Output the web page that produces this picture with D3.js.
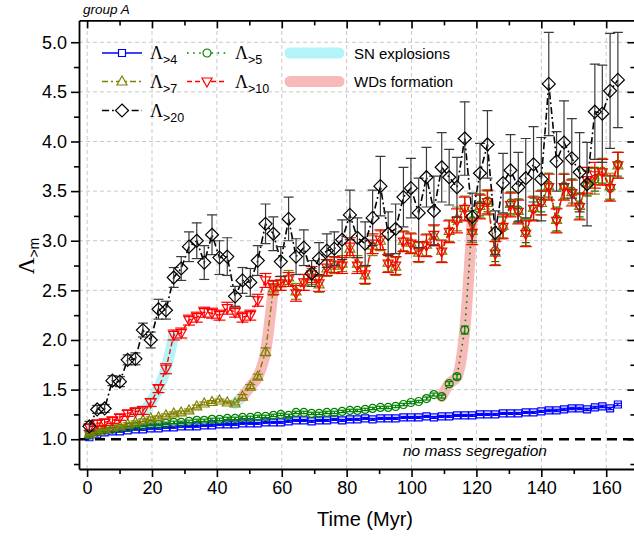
<!DOCTYPE html>
<html><head><meta charset="utf-8">
<script src="https://cdn.jsdelivr.net/npm/d3@7"></script>
<style>body{margin:0;background:#fff;} svg{display:block;font-family:"Liberation Sans",Arial,sans-serif;}</style>
</head><body><svg id="c" width="634" height="536"></svg>
<script>
// ---- data ----
const time = [0.7,3.1,5.4,7.8,10.1,12.5,14.9,17.2,19.6,22.0,
24.3,26.7,29.0,31.4,33.8,36.1,38.5,40.8,43.2,45.6,
47.9,50.3,52.6,55.0,57.4,59.7,62.1,64.4,66.8,69.2,
71.5,73.9,76.2,78.6,81.0,83.3,85.7,88.0,90.4,92.8,
95.1,97.5,99.8,102.2,104.6,106.9,109.3,111.6,114.0,116.4,
118.7,121.1,123.4,125.8,128.2,130.5,132.9,135.2,137.6,140.0,
142.3,144.7,147.0,149.4,151.8,154.1,156.5,158.8,161.2,163.6];

const lam4 = [1.02,1.05,1.07,1.08,1.08,1.09,1.10,1.10,1.11,1.11,
1.12,1.12,1.13,1.13,1.13,1.14,1.14,1.15,1.15,1.15,
1.16,1.16,1.16,1.17,1.17,1.17,1.18,1.19,1.19,1.18,
1.19,1.19,1.20,1.19,1.20,1.20,1.21,1.20,1.21,1.21,
1.21,1.22,1.22,1.22,1.23,1.22,1.23,1.23,1.24,1.24,
1.24,1.25,1.25,1.25,1.26,1.26,1.26,1.27,1.27,1.28,
1.29,1.29,1.30,1.31,1.31,1.30,1.32,1.33,1.31,1.35];
const err4 = [0.01,0.01,0.01,0.01,0.01,0.01,0.01,0.01,0.01,0.01,
0.01,0.01,0.01,0.01,0.01,0.01,0.01,0.01,0.01,0.01,
0.01,0.01,0.01,0.01,0.01,0.01,0.01,0.01,0.01,0.01,
0.01,0.01,0.01,0.01,0.01,0.01,0.01,0.01,0.01,0.01,
0.01,0.01,0.01,0.01,0.01,0.01,0.01,0.01,0.01,0.01,
0.01,0.01,0.01,0.01,0.01,0.01,0.01,0.01,0.01,0.01,
0.012,0.012,0.012,0.012,0.012,0.012,0.012,0.012,0.012,0.012];

const lam5 = [1.04,1.07,1.09,1.10,1.11,1.12,1.13,1.14,1.15,1.15,
1.16,1.17,1.17,1.18,1.19,1.19,1.20,1.20,1.21,1.21,
1.22,1.22,1.23,1.23,1.24,1.25,1.24,1.27,1.27,1.26,
1.26,1.27,1.27,1.28,1.29,1.29,1.30,1.31,1.32,1.32,
1.33,1.35,1.37,1.38,1.41,1.45,1.43,1.56,1.63,2.10,
3.20,3.36,3.40,2.90,3.13,3.38,3.31,3.10,3.32,3.40,
3.56,3.22,3.55,3.50,3.36,3.58,3.62,3.70,3.53,3.77];
const err5 = [0.012,0.012,0.012,0.012,0.012,0.012,0.012,0.012,0.012,0.012,
0.012,0.012,0.012,0.012,0.012,0.012,0.012,0.012,0.012,0.012,
0.012,0.012,0.012,0.012,0.012,0.012,0.012,0.012,0.012,0.012,
0.012,0.012,0.012,0.012,0.012,0.012,0.012,0.012,0.012,0.012,
0.012,0.012,0.012,0.012,0.015,0.015,0.015,0.02,0.025,0.04,
0.10,0.11,0.11,0.11,0.11,0.11,0.11,0.12,0.11,0.11,
0.12,0.12,0.12,0.12,0.12,0.12,0.12,0.12,0.12,0.12];

const lam7 = [1.05,1.08,1.10,1.12,1.13,1.15,1.17,1.19,1.21,1.22,
1.24,1.26,1.27,1.29,1.33,1.36,1.375,1.39,1.37,1.36,
1.43,1.53,1.63,1.88,2.52,2.57,2.63,2.49,2.58,2.64,
2.56,2.72,2.75,2.77,2.92,2.77,2.65,2.95,3.00,2.78,
2.74,3.00,2.98,2.88,2.96,3.05,2.90,3.10,3.22,3.33,
3.10,3.35,3.38,2.88,3.15,3.37,3.30,3.08,3.33,3.38,
3.55,3.21,3.55,3.49,3.35,3.58,3.60,3.70,3.55,3.76];
const err7 = [0.015,0.015,0.015,0.015,0.015,0.015,0.015,0.015,0.015,0.015,
0.015,0.015,0.015,0.015,0.015,0.015,0.015,0.015,0.015,0.015,
0.02,0.02,0.025,0.04,0.07,0.07,0.07,0.08,0.08,0.08,
0.08,0.08,0.08,0.08,0.09,0.08,0.09,0.10,0.10,0.09,
0.09,0.10,0.10,0.10,0.11,0.10,0.11,0.11,0.12,0.12,
0.12,0.12,0.12,0.12,0.12,0.12,0.12,0.13,0.12,0.12,
0.13,0.12,0.13,0.13,0.13,0.13,0.13,0.13,0.13,0.13];

const lam10 = [1.12,1.16,1.17,1.19,1.22,1.26,1.28,1.29,1.37,1.51,
1.71,2.05,2.07,2.20,2.23,2.28,2.27,2.25,2.32,2.28,
2.23,2.25,2.40,2.60,2.53,2.57,2.61,2.47,2.58,2.66,
2.57,2.73,2.76,2.75,2.94,2.75,2.66,2.97,3.01,2.77,
2.75,2.99,2.97,2.89,2.95,3.06,2.89,3.09,3.20,3.32,
3.08,3.34,3.39,2.87,3.14,3.36,3.29,3.07,3.32,3.38,
3.54,3.20,3.54,3.48,3.34,3.61,3.66,3.69,3.53,3.76];
const err10 = [0.03,0.03,0.03,0.03,0.03,0.03,0.03,0.04,0.04,0.04,
0.05,0.05,0.05,0.05,0.05,0.05,0.05,0.05,0.06,0.05,
0.05,0.05,0.06,0.07,0.07,0.07,0.07,0.08,0.08,0.08,
0.08,0.08,0.08,0.08,0.09,0.08,0.09,0.10,0.10,0.09,
0.09,0.10,0.10,0.10,0.11,0.10,0.11,0.11,0.12,0.12,
0.12,0.12,0.12,0.12,0.12,0.12,0.12,0.13,0.12,0.12,
0.13,0.12,0.13,0.13,0.13,0.13,0.13,0.13,0.13,0.13];

const lam20 = [1.13,1.30,1.31,1.59,1.58,1.80,1.81,2.10,2.00,2.31,
2.30,2.63,2.72,2.94,3.00,2.78,3.06,2.83,2.84,2.44,
2.60,2.58,2.80,3.17,3.07,2.79,3.22,2.84,2.93,2.67,
2.82,2.90,2.92,3.01,3.26,3.03,2.97,3.23,3.55,3.07,
3.12,3.44,3.53,3.28,3.64,3.30,3.74,3.64,3.54,4.03,
3.24,3.68,3.97,3.08,3.58,3.71,3.54,3.63,3.77,3.62,
4.58,3.80,3.99,3.83,3.69,3.57,4.30,4.28,4.51,4.62];
const err20 = [0.05,0.04,0.04,0.05,0.05,0.05,0.06,0.07,0.08,0.10,
0.09,0.10,0.12,0.15,0.18,0.17,0.20,0.17,0.19,0.10,
0.13,0.14,0.15,0.20,0.17,0.15,0.22,0.18,0.18,0.13,
0.16,0.17,0.17,0.20,0.25,0.20,0.22,0.28,0.30,0.22,
0.25,0.30,0.30,0.35,0.30,0.35,0.35,0.28,0.30,0.37,
0.24,0.30,0.34,0.22,0.30,0.36,0.35,0.40,0.38,0.42,
0.52,0.30,0.42,0.40,0.40,0.42,0.48,0.49,0.58,0.48];

// highlighted phases: [series, first index, last index]
const snBands = [["lam10", 6, 11], ["lam7", 19, 20]];
const wdBands = [["lam7", 20, 24], ["lam5", 46, 50]];

const xTicks = [0,20,40,60,80,100,120,140,160];
const xMinor = [10,30,50,70,90,110,130,150];
const yTicks = [1.0,1.5,2.0,2.5,3.0,3.5,4.0,4.5,5.0];
const yMinor = [0.75,1.25,1.75,2.25,2.75,3.25,3.75,4.25,4.75];

// ---- drawing ----
const vals = {lam4, lam5, lam7, lam10, lam20};
const errs = {lam4: err4, lam5: err5, lam7: err7, lam10: err10, lam20: err20};
const series = [
  {k:"lam4", sub:">4", color:"#0000ff", dash:null, marker:"square", cap:6, ecol:"#0000ff", w:1.3},
  {k:"lam5", sub:">5", color:"#008000", dash:"1.6,4.5", marker:"circle", cap:8, ecol:"#008000", w:1.6},
  {k:"lam7", sub:">7", color:"#808000", dash:"6,3,2,3", marker:"up", cap:10, ecol:"#808000", w:1.4},
  {k:"lam10", sub:">10", color:"#ff0000", dash:"5,3", marker:"down", cap:12, ecol:"#ff0000", w:1.4},
  {k:"lam20", sub:">20", color:"#000000", dash:"7,3,1.8,3", marker:"diamond", cap:10, ecol:"#3a3a3a", w:1.6}
];
const shapes = {
  square: "M-3.5,-3.5h7v7h-7z",
  circle: "M4,0A4,4 0 1,1 -4,0A4,4 0 1,1 4,0Z",
  up: "M0,-5.5L5,3.5L-5,3.5Z",
  down: "M0,5.5L5,-3.5L-5,-3.5Z",
  diamond: "M0,-6.5L6.5,0L0,6.5L-6.5,0Z"
};

const svg = d3.select("#c");
const x = d3.scaleLinear().domain([-2.5, 169]).range([79, 635.4]);
const y = d3.scaleLinear().domain([0.7, 5.22]).range([469, 20.4]);

svg.append("defs").append("clipPath").attr("id","clip")
  .append("rect").attr("x",79).attr("y",20.4).attr("width",556.4).attr("height",448.6);

// grid
const grid = svg.append("g").attr("stroke","#c8c8c8").attr("stroke-width",1).attr("stroke-dasharray","4,3");
grid.selectAll("line.gx").data(xTicks).join("line")
  .attr("x1",d=>x(d)).attr("x2",d=>x(d)).attr("y1",y.range()[0]).attr("y2",y.range()[1]);
grid.selectAll("line.gy").data(yTicks.slice(1)).join("line")
  .attr("x1",x.range()[0]).attr("x2",x.range()[1]).attr("y1",d=>y(d)).attr("y2",d=>y(d));

// reference line
svg.append("line").attr("x1",79).attr("x2",635).attr("y1",y(1)).attr("y2",y(1))
  .attr("stroke","#000").attr("stroke-width",2.6).attr("stroke-dasharray","10,6");
svg.append("text").attr("x",403).attr("y",456).attr("font-size",15.5).attr("font-style","italic")
  .text("no mass segregation");

const plot = svg.append("g").attr("clip-path","url(#clip)");

// bands
function band(list, color){
  list.forEach(([k,a,b])=>{
    const pts = d3.range(a,b+1).map(i=>[x(time[i]), y(vals[k][i])]);
    plot.append("path").attr("d", d3.line().curve(d3.curveMonotoneX)(pts))
      .attr("fill","none").attr("stroke",color).attr("stroke-width",11)
      .attr("stroke-linecap","round").attr("stroke-linejoin","round");
  });
}
band(snBands, "#b2f4f7");
band(wdBands, "#f8b9b9");

// series
series.forEach(s=>{
  const v = vals[s.k], e = errs[s.k];
  const g = plot.append("g");
  const data = time.map((t,i)=>({t, v:v[i], e:e[i]}));
  g.append("path").datum(data)
    .attr("d", d3.line().x(d=>x(d.t)).y(d=>y(d.v)))
    .attr("fill","none").attr("stroke",s.color).attr("stroke-width",s.w)
    .attr("stroke-dasharray",s.dash);
  const eb = g.append("g").attr("stroke",s.ecol).attr("stroke-width",1.2);
  eb.selectAll("line.v").data(data).join("line")
    .attr("x1",d=>x(d.t)).attr("x2",d=>x(d.t)).attr("y1",d=>y(d.v-d.e)).attr("y2",d=>y(d.v+d.e));
  eb.selectAll("line.t").data(data).join("line")
    .attr("x1",d=>x(d.t)-s.cap/2).attr("x2",d=>x(d.t)+s.cap/2).attr("y1",d=>y(d.v+d.e)).attr("y2",d=>y(d.v+d.e));
  eb.selectAll("line.b").data(data).join("line")
    .attr("x1",d=>x(d.t)-s.cap/2).attr("x2",d=>x(d.t)+s.cap/2).attr("y1",d=>y(d.v-d.e)).attr("y2",d=>y(d.v-d.e));
  g.selectAll("path.m").data(data).join("path")
    .attr("d",shapes[s.marker]).attr("transform",d=>`translate(${x(d.t)},${y(d.v)})`)
    .attr("fill","none").attr("stroke",s.color).attr("stroke-width",1.2);
});

// axes
function styleAxis(g){ g.selectAll("path.domain").attr("stroke","#000").attr("stroke-width",1.8);
  g.selectAll(".tick line").attr("stroke","#000").attr("stroke-width",1.6); }
const fs = 18;
const ax = svg.append("g").attr("transform","translate(0,469)")
  .call(d3.axisBottom(x).tickValues(xTicks).tickSize(8).tickSizeOuter(0).tickPadding(4));
ax.call(styleAxis); ax.selectAll("text").attr("font-size",fs).attr("font-family","Liberation Sans, Arial").attr("fill","#000");
svg.append("g").attr("transform","translate(0,469)")
  .call(d3.axisBottom(x).tickValues(xMinor).tickSize(5).tickFormat("")).call(styleAxis).select(".domain").remove();
const ay = svg.append("g").attr("transform","translate(79,0)")
  .call(d3.axisLeft(y).tickValues(yTicks).tickFormat(d3.format(".1f")).tickSize(8).tickSizeOuter(0).tickPadding(4));
ay.call(styleAxis); ay.selectAll("text").attr("font-size",fs).attr("font-family","Liberation Sans, Arial").attr("fill","#000");
svg.append("g").attr("transform","translate(79,0)")
  .call(d3.axisLeft(y).tickValues(yMinor).tickSize(5).tickFormat("")).call(styleAxis).select(".domain").remove();
// mirror axes
svg.append("g").attr("transform","translate(0,20.4)")
  .call(d3.axisTop(x).tickValues(xTicks).tickSize(-8).tickSizeOuter(0).tickFormat("")).call(styleAxis);
svg.append("g").attr("transform","translate(0,20.4)")
  .call(d3.axisTop(x).tickValues(xMinor).tickSize(-5).tickFormat("")).call(styleAxis).select(".domain").remove();
svg.append("g").attr("transform","translate(635.4,0)")
  .call(d3.axisRight(y).tickValues(yTicks).tickSize(-8).tickSizeOuter(0).tickFormat("")).call(styleAxis);
svg.append("g").attr("transform","translate(635.4,0)")
  .call(d3.axisRight(y).tickValues(yMinor).tickSize(-5).tickFormat("")).call(styleAxis).select(".domain").remove();

// axis titles
svg.append("text").attr("x",365).attr("y",526).attr("text-anchor","middle").attr("font-size",20).text("Time (Myr)");
const yl = svg.append("text").attr("transform","translate(34,256) rotate(-90)").attr("text-anchor","middle");
yl.append("tspan").attr("font-family","Liberation Serif, Times New Roman, serif").attr("font-size",23).text("Λ");
yl.append("tspan").attr("font-size",14).attr("dy",5).text(">m");
svg.append("text").attr("x",83).attr("y",14).attr("font-size",13.5).attr("font-style","italic").text("group A");

// legend
const legPos = [[102,53],[187,53],[102,81.5],[187,81.5],[102,110.5]];
series.forEach((s,i)=>{
  const [lx,ly] = legPos[i];
  const g = svg.append("g");
  g.append("line").attr("x1",lx).attr("x2",lx+40).attr("y1",ly).attr("y2",ly)
    .attr("stroke",s.color).attr("stroke-width",s.w).attr("stroke-dasharray",s.dash);
  g.append("path").attr("d",shapes[s.marker]).attr("transform",`translate(${lx+20},${ly})`)
    .attr("fill","#fff").attr("stroke",s.color).attr("stroke-width",1.2);
  const t = g.append("text").attr("x",lx+48).attr("y",ly+6);
  t.append("tspan").attr("font-family","Liberation Serif, Times New Roman, serif").attr("font-size",18).text("Λ");
  t.append("tspan").attr("font-size",12.5).attr("dy",5).text(s.sub);
});
[["SN explosions","#b2f4f7",53],["WDs formation","#f8b9b9",81.5]].forEach(([lab,c,ly])=>{
  svg.append("line").attr("x1",290).attr("x2",339).attr("y1",ly).attr("y2",ly)
    .attr("stroke",c).attr("stroke-width",11).attr("stroke-linecap","round");
  svg.append("text").attr("x",354).attr("y",ly+5.5).attr("font-size",15).text(lab);
});
</script></body></html>
